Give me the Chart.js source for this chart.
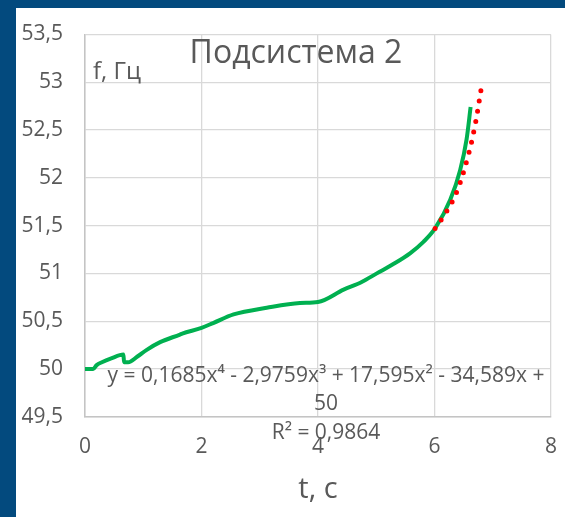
<!DOCTYPE html>
<html><head><meta charset="utf-8">
<script src="https://cdn.jsdelivr.net/npm/chart.js@4.4.0/dist/chart.umd.min.js"></script>
<style>
html,body{margin:0;padding:0;background:#fff;overflow:hidden}
canvas{display:block;position:fixed;left:0;top:0}
</style></head><body>
<canvas id="c" width="565" height="517" style="width:565px;height:517px"></canvas>
<script>
const chartTitle = "Подсистема 2";
const yAxisLabel = "f, Гц";
const xAxisLabel = "t, c";
const trendLabelLines = ["y = 0,1685x\u2074 - 2,9759x\u00b3 + 17,595x\u00b2 - 34,589x +", "50", "R\u00b2 = 0,9864"];

const seriesT = [0, 0.14, 0.2, 0.29, 0.45, 0.66, 0.67, 0.74, 0.9, 1.06, 1.29, 1.63, 1.67, 2.0, 2.2, 2.55, 3.12, 3.69, 4.0, 4.44, 4.75, 5.01, 5.3, 5.58, 5.81, 6.01, 6.27, 6.44, 6.55, 6.62];
const seriesF = [50.0, 50.0, 50.04, 50.07, 50.11, 50.15, 50.07, 50.07, 50.13, 50.20, 50.28, 50.36, 50.37, 50.43, 50.48, 50.57, 50.64, 50.69, 50.70, 50.83, 50.91, 51.00, 51.10, 51.21, 51.33, 51.47, 51.77, 52.08, 52.40, 52.74];

const trendT = [6.01, 6.21, 6.38, 6.55, 6.68, 6.81];
const trendF = [51.47, 51.65, 51.85, 52.17, 52.50, 52.96];

const xTicks = [0, 2, 4, 6, 8];
const yTicks = [49.5, 50, 50.5, 51, 51.5, 52, 52.5, 53, 53.5];

const FONT = "'Open Sans', sans-serif";
const TEXT = "#595959";
const FRAME = "#034a7e";

const framePlugin = {
  id: 'frame',
  beforeDraw(chart) {
    const ctx = chart.ctx;
    ctx.save();
    ctx.fillStyle = '#ffffff';
    ctx.fillRect(0, 0, chart.width, chart.height);
    ctx.fillStyle = FRAME;
    ctx.fillRect(0, 0, chart.width, 8);
    ctx.fillRect(0, 0, 16, chart.height);
    ctx.restore();
  }
};

const textPlugin = {
  id: 'texts',
  afterDraw(chart) {
    const ctx = chart.ctx;
    ctx.save();
    ctx.fillStyle = TEXT;
    ctx.textBaseline = 'alphabetic';
    ctx.font = "32px " + FONT;
    ctx.textAlign = 'center';
    ctx.fillText(chartTitle, 296, 63);
    ctx.font = "24px " + FONT;
    ctx.textAlign = 'left';
    ctx.fillText(yAxisLabel, 93, 79);
    ctx.font = "21px " + FONT;
    ctx.textAlign = 'center';
    const ys = [382, 410, 439];
    trendLabelLines.forEach((s, i) => ctx.fillText(s, 326, ys[i]));
    ctx.restore();
  }
};

new Chart(document.getElementById('c'), {
  type: 'line',
  data: {
    datasets: [
      {
        data: seriesT.map((t, i) => ({x: t, y: seriesF[i]})),
        borderColor: '#00b050',
        borderWidth: 4,
        pointRadius: 0,
        cubicInterpolationMode: 'monotone',
        fill: false,
        order: 1
      },
      {
        data: trendT.map((t, i) => ({x: t, y: trendF[i]})),
        borderColor: '#ff0000',
        borderWidth: 5,
        borderDash: [0, 10.5],
        borderCapStyle: 'round',
        pointRadius: 0,
        tension: 0.4,
        fill: false,
        order: 0
      }
    ]
  },
  options: {
    responsive: false,
    animation: false,
    devicePixelRatio: 1,
    layout: {padding: {top: 34.5, right: 14, left: 0, bottom: 0}},
    plugins: {legend: {display: false}, tooltip: {enabled: false}, title: {display: false}},
    scales: {
      x: {
        type: 'linear', min: 0, max: 8,
        afterBuildTicks: s => { s.ticks = xTicks.map(v => ({value: v})); },
        afterFit: s => { s.height = 100.3; s.paddingLeft = 0; s.paddingRight = 0; },
        grid: {color: '#d9d9d9', lineWidth: 1.3, drawTicks: false, tickLength: 0},
        border: {color: '#c4c4c4', width: 1.5},
        ticks: {color: TEXT, font: {family: FONT, size: 21}, padding: 18, maxRotation: 0},
        title: {display: true, text: xAxisLabel, color: TEXT, font: {family: FONT, size: 29}, padding: {top: 0, bottom: 10}}
      },
      y: {
        type: 'linear', min: 49.5, max: 53.5,
        afterBuildTicks: s => { s.ticks = yTicks.map(v => ({value: v})); },
        afterFit: s => { s.width = 85; s.paddingTop = 0; s.paddingBottom = 0; },
        grid: {color: '#d9d9d9', lineWidth: 1.3, drawTicks: false, tickLength: 0},
        border: {color: '#c4c4c4', width: 1.5},
        ticks: {color: TEXT, font: {family: FONT, size: 21}, padding: 22,
          callback: v => String(v).replace('.', ',')}
      }
    }
  },
  plugins: [framePlugin, textPlugin]
});
</script>
</body></html>
